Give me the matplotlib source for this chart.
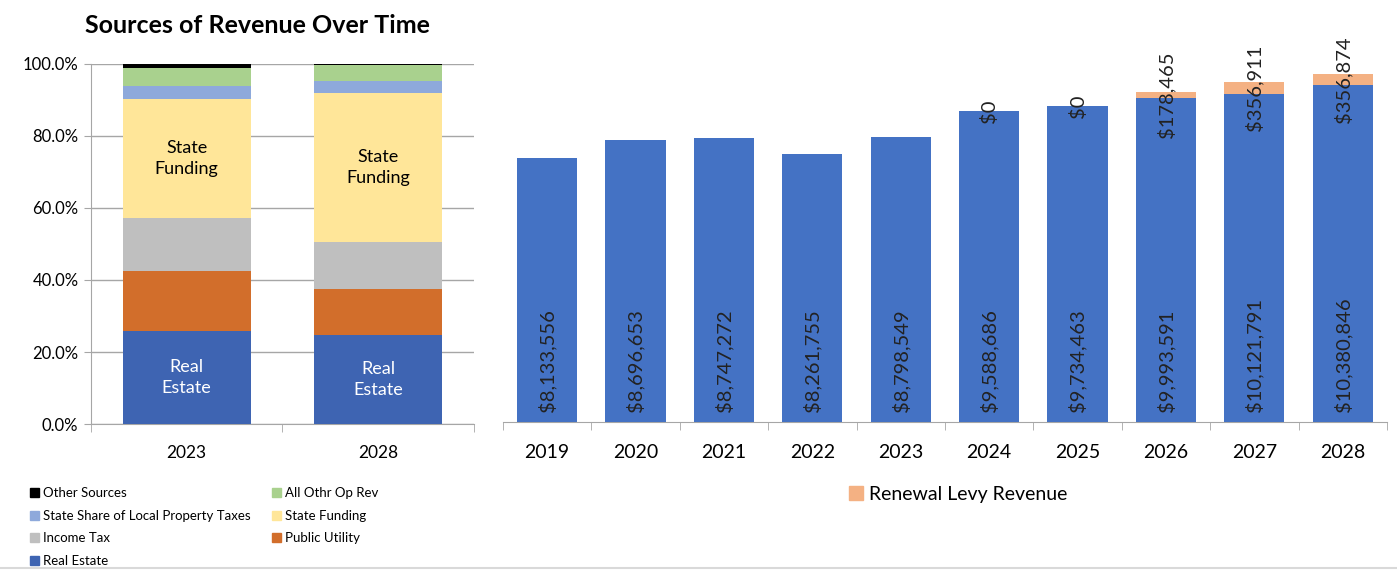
import matplotlib.pyplot as plt
import numpy as np
from matplotlib.patches import Patch
from matplotlib.lines import Line2D

plt.rcParams['font.family'] = ['Lato', 'DejaVu Sans']

# left panel: share of revenue (%) by source
share_years = ['2023', '2028']
sources = ['Real Estate', 'Public Utility', 'Income Tax', 'State Funding',
           'State Share of Local Property Taxes', 'All Othr Op Rev', 'Other Sources']
real_estate = [25.8, 24.7]
public_utility = [16.8, 12.8]
income_tax = [14.5, 13.1]
state_funding = [33.3, 41.3]
state_share = [3.6, 3.5]
all_othr = [5.0, 4.2]
other_sources = [1.0, 0.4]
src_colors = ['#3E64B2', '#D26E2B', '#BFBFBF', '#FFE699', '#8EA9DB', '#A9D18E', '#000000']

# right panel: revenue by year
years = ['2019', '2020', '2021', '2022', '2023', '2024', '2025', '2026', '2027', '2028']
base_rev = [8133556, 8696653, 8747272, 8261755, 8798549, 9588686, 9734463, 9993591, 10121791, 10380846]
levy_rev = [None, None, None, None, None, 0, 0, 178465, 356911, 356874]

fig = plt.figure(figsize=(13.97, 5.71), dpi=100)

# ---- left stacked 100% chart
ax1 = fig.add_axes([0.0651, 0.2574, 0.274, 0.6306])
series = [real_estate, public_utility, income_tax, state_funding, state_share, all_othr, other_sources]
x1 = np.arange(len(share_years))
bottom = np.zeros(len(share_years))
for name, vals, col in zip(sources, series, src_colors):
    ax1.bar(x1, vals, bottom=bottom, width=0.67, color=col, label=name, zorder=3)
    if name == 'Real Estate':
        for xi, b, v in zip(x1, bottom, vals):
            ax1.text(xi, b + v / 2, 'Real\nEstate', ha='center', va='center', color='white',
                     fontsize=13, linespacing=1.35, zorder=4)
    if name == 'State Funding':
        for xi, b, v in zip(x1, bottom, vals):
            ax1.text(xi, b + v / 2, 'State\nFunding', ha='center', va='center', color='black',
                     fontsize=13, linespacing=1.35, zorder=4)
    bottom += np.array(vals)

ax1.set_ylim(0, 100)
ax1.set_xlim(-0.5, 1.5)
ax1.set_yticks(np.arange(0, 101, 20))
ax1.set_yticklabels([f'{v:.1f}%' for v in np.arange(0, 101, 20)], fontsize=12)
ax1.grid(axis='y', color='#A6A6A6', linewidth=1, zorder=0)
ax1.set_xticks(x1)
ax1.set_xticklabels(share_years, fontsize=12.5)
ax1.set_xticks([-0.5, 0.5, 1.5], minor=True)
ax1.tick_params(axis='x', which='major', length=0, pad=15)
ax1.tick_params(axis='x', which='minor', length=6, color='#A6A6A6')
ax1.tick_params(axis='y', length=5, color='#A6A6A6', pad=4)
for s in ['top', 'right']:
    ax1.spines[s].set_visible(False)
for s in ['left', 'bottom']:
    ax1.spines[s].set_color('#A6A6A6')
ax1.set_title('Sources of Revenue Over Time', fontsize=18, fontweight='bold',
              loc='left', x=-0.015, pad=22)

# legend in row order like the original
handles = {n: Patch(color=c) for n, c in zip(sources, src_colors)}
order = ['Other Sources', 'State Share of Local Property Taxes', 'Income Tax', 'Real Estate',
         'All Othr Op Rev', 'State Funding', 'Public Utility']
fig.legend([handles[n] for n in order], order, ncol=2, loc='upper left',
           bbox_to_anchor=(0.0175, 0.156), frameon=False, fontsize=9.5,
           handlelength=0.7, handleheight=0.7, handletextpad=0.3,
           columnspacing=1.6, labelspacing=0.8, borderaxespad=0)

# ---- right chart
ax2 = fig.add_axes([0.360, 0.261, 0.6328, 0.625])
x2 = np.arange(len(years))
ax2.bar(x2, base_rev, width=0.68, color='#4472C4', zorder=3)
levy_vals = [v if v is not None else 0 for v in levy_rev]
ax2.bar(x2, levy_vals, bottom=base_rev, width=0.68, color='#F4B183', zorder=3,
        label='Renewal Levy Revenue')
for xi, b, l in zip(x2, base_rev, levy_rev):
    ax2.annotate(f'${b:,.0f}', (xi, 0), xytext=(0, 7), textcoords='offset points',
                 rotation=90, ha='center', va='bottom', fontsize=14.5, color='#222222', zorder=4)
    if l is not None:
        ax2.text(xi, b + l / 2, f'${l:,.0f}', rotation=90, ha='center', va='center',
                 fontsize=14.5, color='#222222', zorder=4)

ax2.set_ylim(0, 11000000)
ax2.set_xlim(-0.5, len(years) - 0.5)
ax2.set_yticks([])
ax2.set_xticks(x2)
ax2.set_xticklabels(years, fontsize=14)
ax2.set_xticks(np.arange(-0.5, len(years), 1), minor=True)
ax2.tick_params(axis='x', which='major', length=0, pad=16)
ax2.tick_params(axis='x', which='minor', length=6, color='#A6A6A6')
for s in ['top', 'right', 'left']:
    ax2.spines[s].set_visible(False)
ax2.spines['bottom'].set_color('#A6A6A6')
fig.legend(handles=[Patch(color='#F4B183')], labels=['Renewal Levy Revenue'],
           loc='center', bbox_to_anchor=(0.686, 0.134), frameon=False, fontsize=14,
           handlelength=0.7, handleheight=0.7, handletextpad=0.3)

fig.add_artist(Line2D([0, 1], [0.006, 0.006], color='#D9D9D9', linewidth=1.5))

fig.savefig('out.png', dpi=100)
